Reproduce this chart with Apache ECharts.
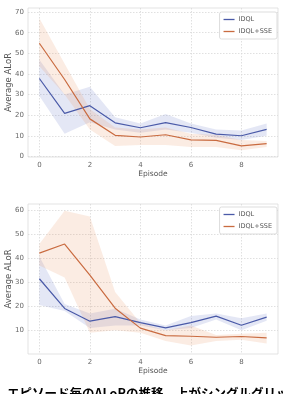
<!DOCTYPE html>
<html>
  <head>
    <meta charset="UTF-8">
    <title>ALoR per episode</title>
    <script src="https://cdn.jsdelivr.net/npm/echarts@6/dist/echarts.min.js"></script>
    <style>
      html, body { margin: 0; padding: 0; background: #fff; overflow: hidden; }
      #main { width: 283px; height: 394px; }
    </style>
  </head>
  <body>
    <div id="main"></div>
    <script type="text/javascript">
      // x 軸（エピソード）
      var episodes = [0, 1, 2, 3, 4, 5, 6, 7, 8, 9];
      var xTicks = [0, 2, 4, 6, 8];
      var yTicksTop = [0, 10, 20, 30, 40, 50, 60, 70];
      var yTicksBottom = [10, 20, 30, 40, 50, 60];

      // 上のグラフ
      var topIdql      = [37.8, 20.9, 24.6, 16.3, 13.9, 16.4, 14.0, 10.8, 10.0, 13.1];
      var topIdqlLow   = [29.3, 11.0, 16.6, 13.0, 11.5, 13.0, 11.5, 9.0, 8.0, 10.0];
      var topIdqlHigh  = [46.9, 30.0, 33.8, 19.0, 16.0, 20.6, 16.0, 13.0, 12.5, 16.0];
      var topSse       = [54.9, 37.3, 18.2, 10.2, 9.4, 10.5, 8.0, 7.8, 5.1, 6.2];
      var topSseLow    = [43.7, 30.0, 13.0, 5.0, 5.5, 5.5, 4.5, 4.5, 3.0, 4.5];
      var topSseHigh   = [67.0, 45.0, 23.0, 14.0, 13.0, 14.0, 11.0, 10.5, 8.0, 7.5];

      // 下のグラフ
      var botIdql      = [31.5, 19.1, 13.8, 15.7, 13.2, 11.0, 13.2, 15.9, 12.1, 15.5];
      var botIdqlLow   = [20.6, 18.0, 11.0, 12.0, 12.0, 10.0, 11.0, 14.5, 10.0, 14.0];
      var botIdqlHigh  = [40.8, 21.0, 17.0, 19.0, 14.5, 12.0, 16.0, 17.0, 15.0, 17.0];
      var botSse       = [42.2, 46.0, 33.0, 19.2, 10.9, 7.8, 7.5, 7.1, 7.4, 6.8];
      var botSseLow    = [37.0, 32.0, 9.0, 10.0, 9.0, 5.5, 3.6, 5.5, 6.0, 4.5];
      var botSseHigh   = [46.0, 59.9, 57.5, 26.0, 13.0, 10.0, 12.0, 8.0, 8.5, 9.0];

      var names = ['IDQL', 'IDQL+SSE'];
      var blue = '#4a5aa8';
      var orange = '#c96b40';
      var blueBand = 'rgba(90,105,190,0.16)';
      var orangeBand = 'rgba(235,150,100,0.18)';
      var labelFont = 'DejaVu Sans';

      function pairs(arr) {
        return episodes.map(function (e, i) { return [e, arr[i]]; });
      }

      // 信頼区間の帯（上限→下限の順で多角形にする）
      function band(idx, lo, hi, color) {
        return {
          type: 'custom', xAxisIndex: idx, yAxisIndex: idx, silent: true, z: 1,
          data: [[0, 0]],
          renderItem: function (params, api) {
            var pts = [];
            for (var i = 0; i < episodes.length; i++) pts.push(api.coord([episodes[i], hi[i]]));
            for (var j = episodes.length - 1; j >= 0; j--) pts.push(api.coord([episodes[j], lo[j]]));
            return { type: 'polygon', shape: { points: pts }, style: { fill: color } };
          }
        };
      }

      function line(idx, name, vals, color) {
        return {
          name: name, type: 'line', xAxisIndex: idx, yAxisIndex: idx,
          data: pairs(vals), symbol: 'none', z: 5,
          lineStyle: { color: color, width: 1.2 },
          itemStyle: { color: color }
        };
      }

      function xAxis(idx) {
        return {
          type: 'value', gridIndex: idx, min: -0.45, max: 9.45,
          name: 'Episode', nameLocation: 'middle', nameGap: 13, nameMoveOverlap: false,
          nameTextStyle: { color: '#555', fontSize: 7.5, fontFamily: labelFont },
          axisLine: { show: false },
          axisTick: { show: false, customValues: xTicks },
          axisLabel: { customValues: xTicks, color: '#666', fontSize: 7, fontFamily: labelFont, margin: 5 },
          splitLine: { show: true, lineStyle: { color: '#d8d8d8', type: [1.5, 1.5], width: 0.8 } }
        };
      }

      function yAxis(idx, min, max, ticks) {
        return {
          type: 'value', gridIndex: idx, min: min, max: max,
          name: 'Average ALoR', nameLocation: 'middle', nameGap: 15, nameMoveOverlap: false,
          nameTextStyle: { color: '#555', fontSize: 8.5, fontFamily: labelFont },
          axisLine: { show: false },
          axisTick: { show: false, customValues: ticks },
          axisLabel: { customValues: ticks, color: '#666', fontSize: 7, fontFamily: labelFont, margin: 4 },
          splitLine: { show: true, lineStyle: { color: '#d8d8d8', type: [1.5, 1.5], width: 0.8 } }
        };
      }

      function legend(top) {
        return {
          data: names, orient: 'vertical', right: 6, top: top,
          icon: 'rect', itemWidth: 11, itemHeight: 1.3, itemGap: 5,
          padding: [4, 5, 4, 4],
          backgroundColor: '#fff', borderColor: '#d4d4d4', borderWidth: 0.8, borderRadius: 2,
          textStyle: { color: '#555', fontSize: 6.5, fontFamily: labelFont, padding: [0, 0, 0, -1] }
        };
      }

      var chart = echarts.init(document.getElementById('main'));

      var series = [
        band(0, topIdqlLow, topIdqlHigh, blueBand),
        band(0, topSseLow, topSseHigh, orangeBand),
        line(0, 'IDQL', topIdql, blue),
        line(0, 'IDQL+SSE', topSse, orange),
        band(1, botIdqlLow, botIdqlHigh, blueBand),
        band(1, botSseLow, botSseHigh, orangeBand),
        line(1, 'IDQL', botIdql, blue),
        line(1, 'IDQL+SSE', botSse, orange)
      ];

      chart.setOption({
        animation: false,
        backgroundColor: '#fff',
        grid: [
          { left: 28, top: 8, width: 250, height: 149, outerBoundsMode: 'none', show: true,
            borderColor: '#dcdcdc', borderWidth: 0.8, backgroundColor: '#fff' },
          { left: 28, top: 204, width: 250, height: 150, outerBoundsMode: 'none', show: true,
            borderColor: '#dcdcdc', borderWidth: 0.8, backgroundColor: '#fff' }
        ],
        legend: [legend(12), legend(207)],
        xAxis: [xAxis(0), xAxis(1)],
        yAxis: [yAxis(0, -0.3, 72, yTicksTop), yAxis(1, 0.1, 62.7, yTicksBottom)],
        series: series,
        graphic: [
          {
            type: 'text', left: 7, top: 387,
            style: {
              text: 'エピソード毎のALoRの推移。上がシングルグリッド、下がマルチグリッド',
              fill: '#000', font: 'bold 12.5px "Noto Sans CJK JP"'
            }
          }
        ]
      });
    </script>
  </body>
</html>
